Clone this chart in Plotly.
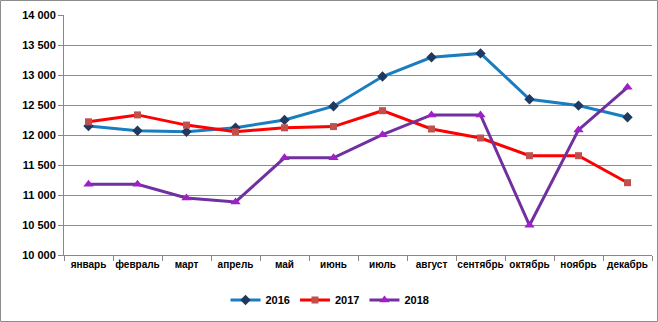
import plotly.graph_objects as go

months = ["январь", "февраль", "март", "апрель", "май", "июнь", "июль",
          "август", "сентябрь", "октябрь", "ноябрь", "декабрь"]
v2016 = [12150, 12070, 12055, 12120, 12250, 12480, 12975, 13295, 13360, 12595, 12490, 12295]
v2017 = [12220, 12335, 12165, 12055, 12120, 12140, 12405, 12100, 11950, 11655, 11655, 11205]
v2018 = [11180, 11180, 10950, 10885, 11620, 11620, 12005, 12335, 12335, 10495, 12085, 12795]
yticks = [10000, 10500, 11000, 11500, 12000, 12500, 13000, 13500, 14000]

FONT = "Liberation Sans"
W, H = 658, 322
L, R, T, B = 64, 6, 15, 67
pw, ph = W - L - R, H - T - B

fig = go.Figure()
series = [
    ("2016", v2016, "#1a7dc0", "#1f3a60", "diamond", 8),
    ("2017", v2017, "#ff0000", "#c0504d", "square", 7),
    ("2018", v2018, "#7030a0", "#a020c8", "triangle-up", 9),
]
for name, vals, lc, mc, sym, ms in series:
    fig.add_trace(go.Scatter(
        x=months, y=vals, name=name, mode="lines+markers",
        line=dict(color=lc, width=3),
        marker=dict(symbol=sym, size=ms, color=mc, line=dict(width=0)),
    ))

fig.update_layout(
    width=W, height=H,
    margin=dict(l=L, r=R, t=T, b=B),
    paper_bgcolor="white", plot_bgcolor="white",
    separators=", ",
    font=dict(family=FONT, size=11, color="black"),
    showlegend=True,
    legend=dict(orientation="h", x=(330 - L) / pw, xanchor="center",
                y=(T + ph - 300) / ph, yanchor="middle",
                font=dict(family=FONT, size=11, color="black", weight="bold"),
                itemwidth=30, tracegroupgap=0),
    xaxis=dict(
        type="category", tickson="boundaries", showgrid=False,
        showline=True, linecolor="#888888", linewidth=1,
        ticks="outside", ticklen=5, tickcolor="#888888", tickangle=0,
        tickfont=dict(family=FONT, size=10, color="black", weight="bold"),
        range=[-0.5, 11.5],
    ),
    yaxis=dict(
        range=[10000, 14000], tickvals=yticks, tickformat=",d",
        showgrid=True, gridcolor="#8c8c8c", gridwidth=1,
        showline=True, linecolor="#888888", linewidth=1,
        ticks="outside", ticklen=5, tickcolor="#888888",
        tickfont=dict(family=FONT, size=11, color="black", weight="bold"),
        zeroline=False,
    ),
    shapes=[dict(
        type="rect", xref="paper", yref="paper", layer="above",
        x0=(0.5 - L) / pw, x1=(W - 0.5 - L) / pw,
        y0=(T + ph - (H - 0.5)) / ph, y1=(T + ph - 0.5) / ph,
        line=dict(color="#8c8c8c", width=1), fillcolor="rgba(0,0,0,0)",
    )],
)

fig.write_html("out.html")
